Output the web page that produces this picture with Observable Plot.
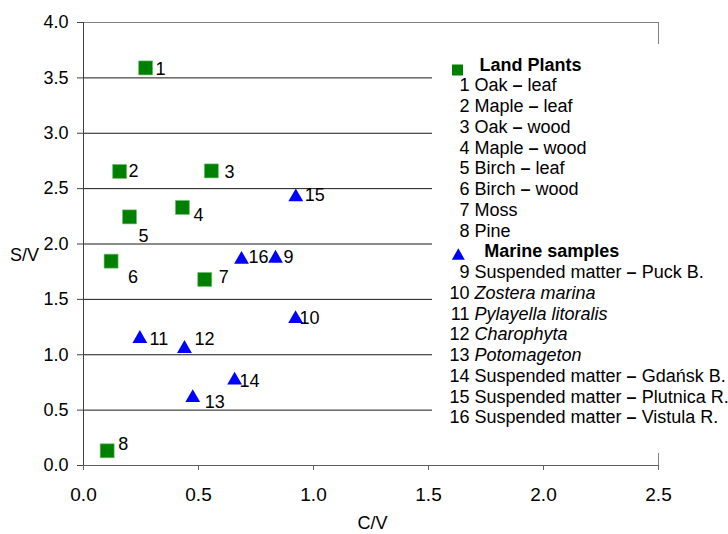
<!DOCTYPE html>
<html>
<head>
<meta charset="utf-8">
<script src="https://cdn.jsdelivr.net/npm/d3@7"></script>
<script src="https://cdn.jsdelivr.net/npm/@observablehq/plot@0.6"></script>
<style>
  html, body { margin: 0; padding: 0; background: white; }
</style>
</head>
<body>
<div id="chart"></div>
<script>
// ---- data ----
const ids = [1, 2, 3, 4, 5, 6, 7, 8, 9, 10, 11, 12, 13, 14, 15, 16];
const groups = ["Land Plants","Land Plants","Land Plants","Land Plants","Land Plants","Land Plants","Land Plants","Land Plants",
                "Marine samples","Marine samples","Marine samples","Marine samples","Marine samples","Marine samples","Marine samples","Marine samples"];
const cv = [0.27, 0.157, 0.556, 0.43, 0.20, 0.12, 0.527, 0.103, 0.835, 0.922, 0.245, 0.439, 0.475, 0.657, 0.923, 0.687];
const sv = [3.59, 2.655, 2.66, 2.33, 2.245, 1.845, 1.68, 0.133, 1.89, 1.345, 1.165, 1.075, 0.632, 0.79, 2.444, 1.88];
const landNames = ["Oak – leaf", "Maple – leaf", "Oak – wood", "Maple – wood", "Birch – leaf", "Birch – wood", "Moss", "Pine"];
const marineNames = ["Suspended matter – Puck B.", "Zostera marina", "Pylayella litoralis", "Charophyta", "Potomageton",
                     "Suspended matter – Gdańsk B.", "Suspended matter – Plutnica R.", "Suspended matter – Vistula R."];
const italicIds = [10, 11, 12, 13];
const xTicks = [0, 0.5, 1.0, 1.5, 2.0, 2.5];
const yTicks = [0, 0.5, 1.0, 1.5, 2.0, 2.5, 3.0, 3.5, 4.0];
const gridValues = [0.5, 1.0, 1.5, 2.0, 2.5, 3.0, 3.5];
const xLabel = "C/V";
const yLabel = "S/V";

// ---- styling (label nudges in px) ----
const labelNudge = [[15,1],[14,0],[18,1],[16,8],[14,19],[22,16],[19,-2],[16,-7],
                    [13,1],[14,2],[19,3],[20,-7],[22,7],[15,3],[19,0],[17,0]];
const GREEN = "#008000", BLUE = "#0000ff";
const FONT = "'Liberation Sans', Arial, Helvetica, sans-serif";

const points = ids.map((id, i) => ({id, group: groups[i], cv: cv[i], sv: sv[i]}));
const land = points.filter(d => d.group === "Land Plants");
const marine = points.filter(d => d.group === "Marine samples");

function legendMark() {
  return () => {
    const g = d3.create("svg:g").attr("font-family", FONT).attr("font-size", 18).attr("fill", "black")
      .attr("text-anchor", "start");
    g.append("rect").attr("x", 432).attr("y", 44).attr("width", 296).attr("height", 409).attr("fill", "white");
    const rows = [];
    rows.push({title: "Land Plants", symbol: "square"});
    landNames.forEach((n, i) => rows.push({num: ids[i], text: n}));
    rows.push({title: "Marine samples", symbol: "triangle"});
    marineNames.forEach((n, i) => rows.push({num: ids[i + 8], text: n}));
    rows.forEach((r, i) => {
      const yb = 70.5 + i * 20.75;
      if (r.title) {
        if (r.symbol === "square") {
          g.append("rect").attr("x", 452).attr("y", 64.5).attr("width", 11).attr("height", 11).attr("fill", GREEN);
          g.append("text").attr("x", 479.5).attr("y", yb).attr("text-anchor", "start").attr("font-weight", "bold").text(r.title);
        } else {
          const cx = 458.3, cy = yb - 3;
          g.append("path").attr("d", `M${cx},${cy-6}L${cx+6.5},${cy+5.5}L${cx-6.5},${cy+5.5}Z`).attr("fill", BLUE);
          g.append("text").attr("x", 484.3).attr("y", yb).attr("text-anchor", "start").attr("font-weight", "bold").text(r.title);
        }
      } else {
        g.append("text").attr("x", 469.5).attr("y", yb).attr("text-anchor", "end").text(r.num);
        const t = g.append("text").attr("x", 474.5).attr("y", yb).attr("text-anchor", "start");
        if (italicIds.includes(r.num)) t.attr("font-style", "italic");
        const parts = r.text.split(" – ");
        if (parts.length === 2) {
          t.append("tspan").text(parts[0] + " ");
          t.append("tspan").attr("font-weight", "bold").text("–");
          t.append("tspan").text(" " + parts[1]);
        } else {
          t.text(r.text);
        }
      }
    });
    return g.node();
  };
}

const fmt = d3.format(".1f");

const plot = Plot.plot({
  width: 728,
  height: 534,
  marginLeft: 83,
  marginRight: 70,
  marginTop: 22,
  marginBottom: 69,
  style: {fontFamily: FONT, fontSize: "18px", background: "white", color: "black", overflow: "visible"},
  x: {domain: [0, 2.5]},
  y: {domain: [0, 4]},
  marks: [
    Plot.ruleY(gridValues, {stroke: "#000", strokeWidth: 1, strokeOpacity: 0.9}),
    Plot.ruleY([4], {stroke: "#808080", strokeWidth: 1}),
    Plot.ruleX([2.5], {stroke: "#808080", strokeWidth: 1}),
    Plot.ruleX([0], {stroke: "#404040", strokeWidth: 1}),
    Plot.ruleY([0], {stroke: "#606060", strokeWidth: 1}),
    Plot.axisX({ticks: xTicks, tickFormat: fmt, tickSize: 5, tickPadding: 17, fontSize: 19, label: null, stroke: "#606060"}),
    Plot.axisY({ticks: yTicks, tickFormat: fmt, tickSize: 6, tickPadding: 9, fontSize: 18, label: null, stroke: "#404040"}),
    Plot.dot(land, {x: "cv", y: "sv", symbol: "square", r: 7.9, fill: GREEN, stroke: "#6fbf6f", strokeWidth: 0.6}),
    Plot.dot(marine, {x: "cv", y: "sv", symbol: "triangle", r: 5.5, fill: BLUE, dy: 2.2}),
    ...points.map((p, i) => Plot.text([p], {
      x: "cv", y: "sv", text: d => String(d.id),
      dx: labelNudge[i][0], dy: labelNudge[i][1],
      textAnchor: "middle", lineAnchor: "middle", fontSize: 18, fill: "black"
    })),
    legendMark(),
    Plot.text([yLabel], {frameAnchor: "left", dx: -59, dy: 11.5, textAnchor: "middle", lineAnchor: "middle", fontSize: 18}),
    Plot.text([xLabel], {frameAnchor: "bottom", dx: 1.5, dy: 58, textAnchor: "middle", lineAnchor: "middle", fontSize: 18})
  ]
});

document.getElementById("chart").appendChild(plot);
</script>
</body>
</html>
